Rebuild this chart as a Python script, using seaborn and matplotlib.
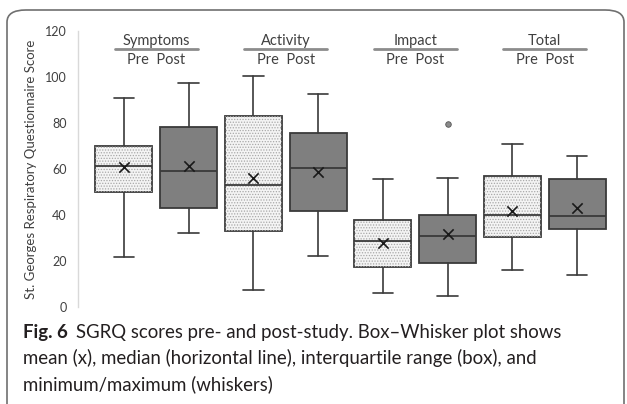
import seaborn as sns
import matplotlib.pyplot as plt
import pandas as pd
from matplotlib.patches import FancyBboxPatch, PathPatch

# summary statistics
groups = ["Symptoms", "Activity", "Impact", "Total"]
pre_min = [21.7, 7.4, 5.9, 16.0]
pre_q1 = [50.0, 33.0, 17.3, 30.4]
pre_med = [61.3, 52.9, 28.8, 39.9]
pre_q3 = [70.0, 83.2, 37.7, 57.0]
pre_max = [91.0, 100.3, 55.5, 70.8]
pre_mean = [60.9, 56.2, 27.9, 41.7]

post_min = [32.1, 22.0, 4.8, 13.9]
post_q1 = [43.1, 41.6, 19.1, 34.0]
post_med = [59.3, 60.6, 30.9, 39.4]
post_q3 = [78.2, 75.7, 39.9, 55.8]
post_max = [97.5, 92.6, 56.1, 65.5]
post_mean = [61.3, 58.8, 31.8, 42.9]
post_fliers = [[], [], [79.5], []]

sns.set_theme(style="white")
plt.rcParams['font.family'] = ['Lato', 'DejaVu Sans']
plt.rcParams['hatch.linewidth'] = 0.6

fig = plt.figure(figsize=(6.27, 4.04), dpi=100)
ax = fig.add_axes([78 / 627, 1 - 307 / 404, 534 / 627, 276 / 404])

stats = []
for i in range(len(groups)):
    stats.append(dict(med=pre_med[i], q1=pre_q1[i], q3=pre_q3[i], whislo=pre_min[i],
                      whishi=pre_max[i], fliers=[], label="Pre"))
    stats.append(dict(med=post_med[i], q1=post_q1[i], q3=post_q3[i], whislo=post_min[i],
                      whishi=post_max[i], fliers=post_fliers[i], label="Post"))
pos = list(range(len(stats)))

edge = "#3a3a3a"
bp = ax.bxp(stats, positions=pos, widths=0.88, capwidths=0.32, patch_artist=True,
            showfliers=True,
            boxprops=dict(edgecolor=edge, linewidth=1.3),
            whiskerprops=dict(color=edge, linewidth=1.2),
            capprops=dict(color=edge, linewidth=1.2),
            medianprops=dict(color=edge, linewidth=1.3),
            flierprops=dict(marker="o", markersize=4, markerfacecolor="#8a8a8a",
                            markeredgecolor="#555555", markeredgewidth=0.6))
for k, box in enumerate(bp["boxes"]):
    if k % 2 == 0:
        box.set_facecolor("#f4f4f4")
        ax.add_patch(PathPatch(box.get_path(), facecolor="none", edgecolor="#a8a8a8",
                               hatch="......", linewidth=0, zorder=box.get_zorder() + 0.1))
    else:
        box.set_facecolor("#7f7f7f")
for k in range(0, len(stats)):
    bp["medians"][k].set_zorder(3)

means = pd.DataFrame({
    "pos": pos,
    "mean": [v for pair in zip(pre_mean, post_mean) for v in pair],
})
sns.scatterplot(data=means, x="pos", y="mean", marker="x", s=55, color="#1a1a1a",
                linewidth=1.2, ax=ax, zorder=5, legend=False)

ax.set_xlim(-0.71, 7.54)
ax.set_ylim(0, 120)
ax.set_xticks([])
ax.set_yticks(range(0, 121, 20))
ax.tick_params(axis="y", labelsize=9, labelcolor="#404040", length=0, pad=8)
ax.set_xlabel("")
ax.set_ylabel("St. Georges Respiratory Questionnaire Score", fontsize=9.5,
              color="#404040", labelpad=6)
for s in ["top", "right", "bottom"]:
    ax.spines[s].set_visible(False)
ax.spines["left"].set_color("#d9d9d9")
ax.spines["left"].set_linewidth(1.0)

# group headers
for i, g in enumerate(groups):
    cx = 2 * i + 0.5
    ax.text(cx, 115.5, g, ha="center", va="center", fontsize=10.5, color="#404040", clip_on=False)
    ax.plot([cx - 0.64, cx + 0.64], [112.0, 112.0], color="#8c8c8c", lw=2, clip_on=False)
    ax.text(cx, 107.4, "Pre  Post", ha="center", va="center", fontsize=10.5, color="#404040",
            clip_on=False)

# caption
cap = dict(fontsize=13.4, color="#231f20", va="baseline", ha="left")
fig_lbl = fig.text(23 / 627, 1 - 338 / 404, "Fig. 6", fontweight="bold", **cap)
fig.canvas.draw()
bb = fig_lbl.get_window_extent()
fig.text((bb.x1 + 8) / 627, 1 - 338 / 404,
         "SGRQ scores pre- and post-study. Box\u2013Whisker plot shows", **cap)
fig.text(23 / 627, 1 - 364 / 404,
         "mean (x), median (horizontal line), interquartile range (box), and", **cap)
fig.text(23 / 627, 1 - 390 / 404, "minimum/maximum (whiskers)", **cap)

# rounded frame
frame = FancyBboxPatch((7 / 627, -0.05), 617 / 627, 1 - 10 / 404 + 0.05,
                       boxstyle="round,pad=0,rounding_size=0.03",
                       transform=fig.transFigure, facecolor="none",
                       edgecolor="#707070", linewidth=1.2, clip_on=False)
fig.patches.append(frame)

fig.savefig("out.png", dpi=100)
